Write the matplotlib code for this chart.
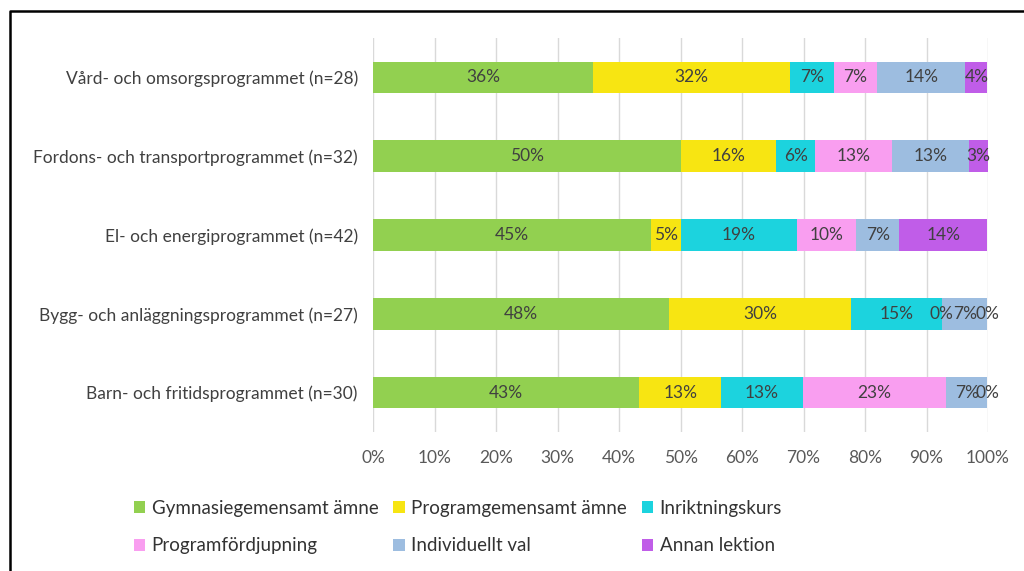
import numpy as np
import matplotlib
matplotlib.use("Agg")
import matplotlib.pyplot as plt
from matplotlib.lines import Line2D

plt.rcParams['font.family'] = ['Lato', 'DejaVu Sans']

# data (andel i procent, topp till botten)
programs = ["Vård- och omsorgsprogrammet (n=28)",
            "Fordons- och transportprogrammet (n=32)",
            "El- och energiprogrammet (n=42)",
            "Bygg- och anläggningsprogrammet (n=27)",
            "Barn- och fritidsprogrammet (n=30)"]
series = ["Gymnasiegemensamt ämne", "Programgemensamt ämne", "Inriktningskurs",
          "Programfördjupning", "Individuellt val", "Annan lektion"]
gymnasie = [35.7, 50.0, 45.2, 48.1, 43.3]
programgem = [32.1, 15.6, 4.8, 29.6, 13.3]
inriktning = [7.1, 6.3, 19.0, 14.8, 13.3]
fordjupning = [7.1, 12.5, 9.5, 0.0, 23.3]
individuellt = [14.3, 12.5, 7.1, 7.4, 6.7]
annan = [3.6, 3.1, 14.3, 0.0, 0.0]
xticks = [0, 10, 20, 30, 40, 50, 60, 70, 80, 90, 100]

colors = ["#92D050", "#F7E512", "#1CD3DE", "#F99EF0", "#9DBDE0", "#C05DE8"]
values = [gymnasie, programgem, inriktning, fordjupning, individuellt, annan]

fig = plt.figure(figsize=(10.24, 5.71), dpi=100)
ax = fig.add_axes([0.3643, 0.2434, 0.6006, 0.6901])

y = np.arange(len(programs))
left = np.zeros(len(programs))
handles = []
for name, vals, col in zip(series, values, colors):
    vals = np.array(vals)
    bars = ax.barh(y, vals, left=left, height=0.4, color=col, label=name, zorder=2)
    handles.append(bars)
    for yi, l, v in zip(y, left, vals):
        ax.text(l + v / 2, yi, f"{int(np.floor(v + 0.5))}%", ha='center', va='center',
                fontsize=12.5, color='#404040', zorder=3)
    left = left + vals

ax.set_xlim(0, 100)
ax.set_ylim(len(programs) - 0.5, -0.5)
ax.set_xticks(xticks)
ax.set_xticklabels([f"{t}%" for t in xticks], fontsize=12.5, color='#595959')
ax.set_yticks(y)
ax.set_yticklabels(programs, fontsize=12.5, color='#404040')
ax.tick_params(axis='both', length=0)
ax.tick_params(axis='x', pad=13)
ax.tick_params(axis='y', pad=11)
ax.grid(axis='x', color='#D9D9D9', linewidth=1, zorder=0)
for s in ax.spines.values():
    s.set_visible(False)

# legend: rows G/P/I and Pf/Iv/A
order = [0, 3, 1, 4, 2, 5]
leg = fig.legend([handles[i] for i in order], [series[i] for i in order],
                 ncol=3, loc='upper left', bbox_to_anchor=(0.116, 0.151),
                 frameon=False, fontsize=13.5, handlelength=0.6, handleheight=0.6,
                 handletextpad=0.35, columnspacing=0.8, labelspacing=1.1,
                 borderpad=0.3)
for t in leg.get_texts():
    t.set_color('#333333')

# ram
fig.add_artist(Line2D([10 / 1024, 10 / 1024, 1.0], [0.0, 1 - 11 / 571, 1 - 11 / 571],
                      transform=fig.transFigure, color='black', linewidth=1.8))

fig.savefig("out.png", dpi=100)
